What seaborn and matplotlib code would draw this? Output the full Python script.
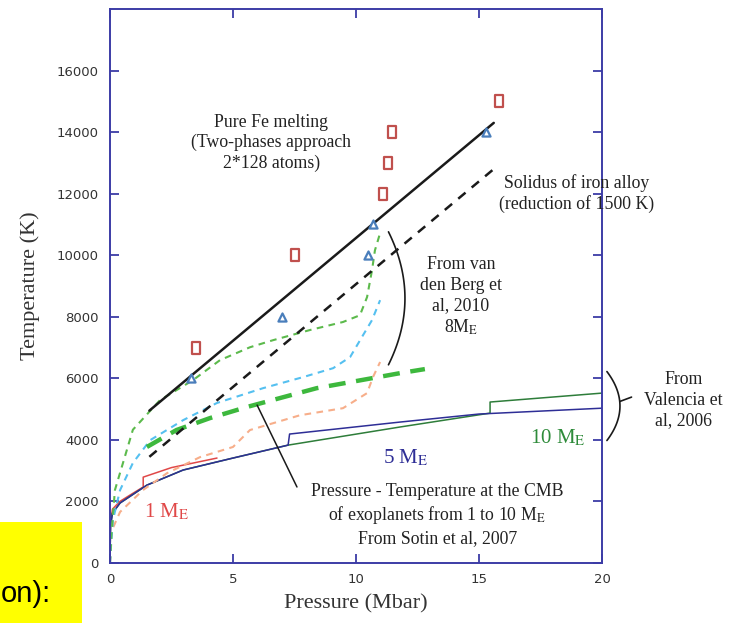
import numpy as np
import pandas as pd
import matplotlib
matplotlib.use("Agg")
import matplotlib.pyplot as plt
from matplotlib.path import Path
from matplotlib.patches import Rectangle
import seaborn as sns

# ---------------- data ----------------
# Pure Fe melting (two-phase simulations) and iron-alloy solidus
fe_melt_p = [1.6, 15.6]
fe_melt_t = [4950, 14300]
solidus_p = [1.6, 15.6]
solidus_t = [3450, 12800]

# ab initio melting points
sq_p = [3.5, 7.5, 11.1, 11.3, 11.45, 15.8]
sq_t = [7000, 10000, 12000, 13000, 14000, 15000]
tri_p = [3.3, 7.0, 10.5, 10.7, 15.3]
tri_t = [6000, 8000, 10000, 11000, 14000]

# van den Berg et al. 2010, 8 M_E profiles
vdb_green_p = [0.0, 0.05, 0.2, 0.93, 2.03, 3.37, 4.47, 5.69, 6.63, 8.13, 9.47, 10.16, 10.45, 10.65, 10.77, 10.98]
vdb_green_t = [0, 840, 2370, 4330, 5290, 5940, 6590, 7010, 7240, 7570, 7830, 8050, 8640, 9510, 10160, 10720]
vdb_blue_p = [0.0, 0.04, 0.12, 0.41, 0.93, 1.63, 2.97, 4.35, 6.22, 7.85, 9.07, 9.76, 10.24, 10.65, 10.98]
vdb_blue_t = [0, 580, 1400, 2370, 3250, 3990, 4640, 5200, 5680, 6040, 6330, 6690, 7340, 7890, 8540]
vdb_orange_p = [0.0, 0.08, 0.41, 1.34, 2.32, 3.66, 5.0, 5.69, 7.72, 9.47, 10.45, 10.69, 10.98]
vdb_orange_t = [0, 1070, 1660, 2370, 2920, 3440, 3770, 4320, 4800, 5030, 5520, 6040, 6530]

# Sotin et al. 2007, CMB conditions (thick dashed)
cmb_p = [1.5, 2.7, 4.07, 5.57, 8.4, 11.8, 12.8]
cmb_t = [3770, 4320, 4710, 5070, 5680, 6170, 6300]

# Valencia et al. 2006 profiles
m1_p = [0.0, 0.02, 0.1, 0.4, 0.9, 1.35, 1.35, 2.5, 4.35]
m1_t = [0, 1300, 1750, 2000, 2250, 2470, 2790, 3100, 3410]
m5_p = [0.0, 0.02, 0.1, 0.41, 1.5, 2.97, 5.0, 7.24, 7.3, 11.8, 15.0, 20.0]
m5_t = [0, 1200, 1620, 1950, 2530, 3020, 3410, 3830, 4190, 4580, 4840, 5030]
m10_p = [0.0, 0.02, 0.1, 0.41, 1.5, 2.97, 5.0, 7.24, 11.8, 15.45, 15.45, 20.0]
m10_t = [0, 1200, 1620, 1950, 2530, 3020, 3410, 3830, 4420, 4870, 5230, 5520]

x_ticks = [0, 5, 10, 15, 20]
y_ticks = [0, 2000, 4000, 6000, 8000, 10000, 12000, 14000, 16000]

# ---------------- style ----------------
sns.set_theme(style="white")
plt.rcParams["font.family"] = ["DejaVu Sans"]
plt.rcParams["mathtext.fontset"] = "stix"
SERIF = ["Liberation Serif", "DejaVu Serif"]
AXC = "#3c3ca6"

fig = plt.figure(figsize=(7.35, 6.23), dpi=100)
ax = fig.add_axes([110 / 735, 60 / 623, 492 / 735, 554 / 623])


def curve(p, t, color, lw, ls="-", z=2):
    df = pd.DataFrame({"p": p, "t": t})
    sns.lineplot(data=df, x="p", y="t", ax=ax, sort=False, estimator=None,
                 color=color, lw=lw, ls=ls, zorder=z)


# Valencia profiles
curve(m1_p, m1_t, "#e04848", 1.1)
curve(m10_p, m10_t, "#2e7d3a", 1.1)
curve(m5_p, m5_t, "#2e2e96", 1.1)

# van den Berg profiles
curve(vdb_orange_p, vdb_orange_t, "#f7ae8a", 1.5, (0, (3.2, 2.6)))
curve(vdb_blue_p, vdb_blue_t, "#55c0f0", 1.5, (0, (3.2, 2.6)))
curve(vdb_green_p, vdb_green_t, "#5cba4c", 1.5, (0, (3.2, 2.6)))

# CMB conditions
curve(cmb_p, cmb_t, "#3db83d", 3.2, (0, (3.8, 2.4)))

# melting and solidus
curve(fe_melt_p, fe_melt_t, "#1a1a1a", 1.8)
curve(solidus_p, solidus_t, "#1a1a1a", 1.8, (0, (3.8, 3.2)))

# markers
rect = Path([(-0.32, -0.5), (0.32, -0.5), (0.32, 0.5), (-0.32, 0.5), (-0.32, -0.5)],
            [Path.MOVETO, Path.LINETO, Path.LINETO, Path.LINETO, Path.CLOSEPOLY])
sns.scatterplot(x=sq_p, y=sq_t, ax=ax, marker=rect, s=80, facecolor="white",
                edgecolor="#c0504d", linewidth=1.6, zorder=5)
sns.scatterplot(x=tri_p, y=tri_t, ax=ax, marker="^", s=34, facecolor="white",
                edgecolor="#4a7ebb", linewidth=1.6, zorder=5)

# ---------------- axes ----------------
ax.set_xlim(0, 20)
ax.set_ylim(0, 18000)
ax.set_xticks(x_ticks)
ax.set_yticks(y_ticks)
ax.set_xticklabels([str(v) for v in x_ticks])
ax.set_yticklabels([str(v) for v in y_ticks])
for s in ax.spines.values():
    s.set_color(AXC)
    s.set_linewidth(1.4)
ax.tick_params(axis="both", direction="in", length=6.5, width=1.3, color=AXC,
               left=True, bottom=True, top=True, right=True,
               labelsize=9.5, labelcolor="#333333")
ax.tick_params(axis="y", pad=8)
ax.tick_params(axis="x", pad=7)
ax.set_xlabel("Pressure (Mbar)", family=SERIF, fontsize=16, color="#333333", labelpad=6)
ax.set_ylabel("Temperature (K)", family=SERIF, fontsize=16, color="#333333", labelpad=12)

# ---------------- annotations ----------------
tk = dict(family=SERIF, fontsize=12.8, color="#222222", ha="center", va="center",
          linespacing=1.25)
ax.text(6.55, 13650, "Pure Fe melting\n(Two-phases approach\n2*128 atoms)", **tk)
ax.text(18.95, 12000, "Solidus of iron alloy\n(reduction of 1500 K)", **tk)
ax.text(14.27, 8650, "From van\nden Berg et\nal, 2010\n8M$_{\\rm E}$", **tk)
ax.text(13.3, 1560, "Pressure - Temperature at the CMB\nof exoplanets from 1 to 10 M$_{\\rm E}$\n"
        "From Sotin et al, 2007", **tk)
ax.text(23.3, 5290, "From\nValencia et\nal, 2006", clip_on=False, **tk)

ax.text(2.3, 1650, "1 M$_{\\rm E}$", family=SERIF, fontsize=15, color="#e04848",
        ha="center", va="center")
ax.text(12.0, 3420, "5 M$_{\\rm E}$", family=SERIF, fontsize=15, color="#2e2e96",
        ha="center", va="center")
ax.text(18.2, 4050, "10 M$_{\\rm E}$", family=SERIF, fontsize=15, color="#2e8b3a",
        ha="center", va="center")

# pointer from the CMB curve to its caption
ax.plot([5.98, 7.6], [5130, 2470], color="#1a1a1a", lw=1.1, zorder=6)

# brackets
yy = np.linspace(-1, 1, 60)
br1_x = 11.99 - (11.99 - 11.32) * yy ** 2
br1_y = 8600 + yy * 2160
ax.plot(br1_x, br1_y, color="#1a1a1a", lw=1.2)
br2_x = 20.73 - (20.73 - 20.2) * yy ** 2
br2_y = 5100 + yy * 1120
ax.plot(br2_x, br2_y, color="#1a1a1a", lw=1.2, clip_on=False)
ax.plot([20.73, 21.2], [5250, 5390], color="#1a1a1a", lw=1.2, clip_on=False)

# yellow caption box at the lower left
fig.patches.append(Rectangle((0, 0), 82 / 735, 101 / 623, transform=fig.transFigure,
                             facecolor="#ffff00", edgecolor="none", zorder=0))
fig.text(1 / 735, 21 / 623, "on):", family=["Liberation Sans", "DejaVu Sans"],
         fontsize=21, color="black", ha="left", va="baseline")

fig.savefig("out.png", dpi=100)
